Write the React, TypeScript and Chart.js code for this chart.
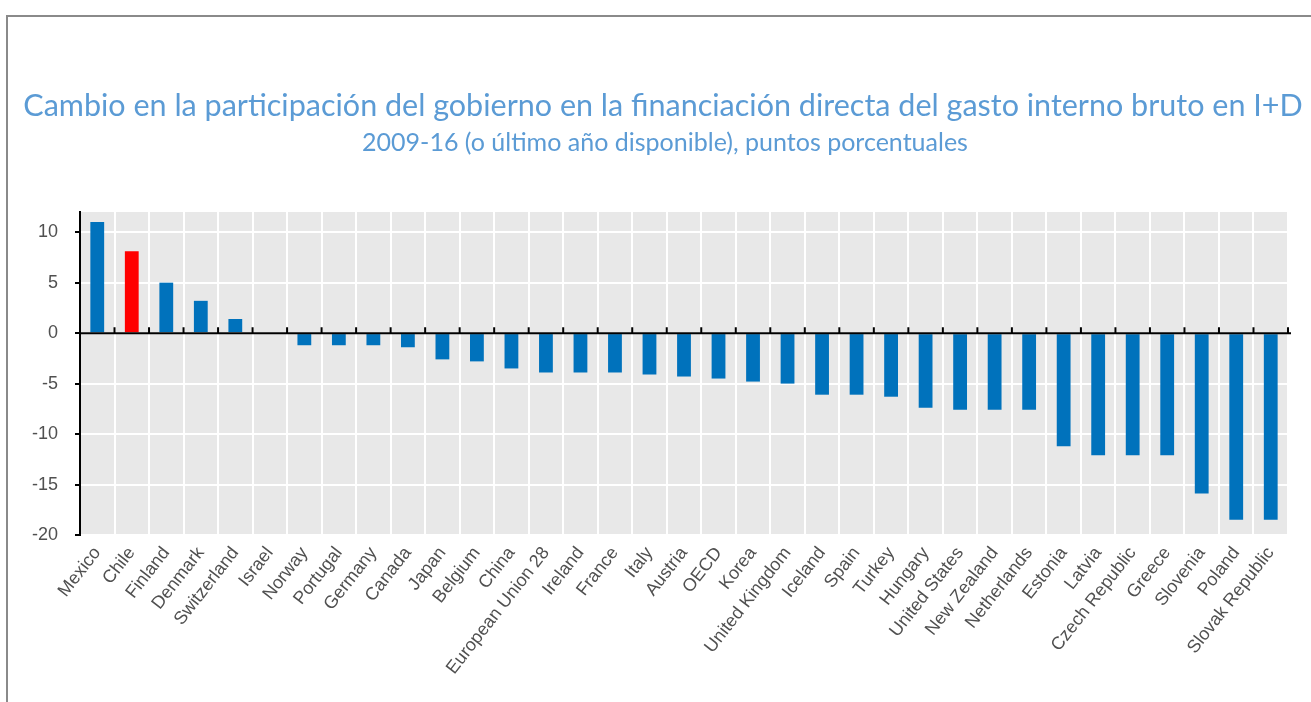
import React, { useEffect, useRef } from "react";
import { Chart, registerables } from "chart.js";

Chart.register(...registerables);

const titleText =
  "Cambio en la participación del gobierno en la financiación directa del gasto interno bruto en I+D";
const subtitleText = "2009-16 (o último año disponible), puntos porcentuales";

const categories = [
  "Mexico", "Chile", "Finland", "Denmark", "Switzerland", "Israel", "Norway",
  "Portugal", "Germany", "Canada", "Japan", "Belgium", "China",
  "European Union 28", "Ireland", "France", "Italy", "Austria", "OECD", "Korea",
  "United Kingdom", "Iceland", "Spain", "Turkey", "Hungary", "United States",
  "New Zealand", "Netherlands", "Estonia", "Latvia", "Czech Republic", "Greece",
  "Slovenia", "Poland", "Slovak Republic",
];

const values = [
  11.0, 8.1, 5.0, 3.2, 1.4, 0, -1.2, -1.2, -1.2, -1.4, -2.6, -2.8, -3.5, -3.9,
  -3.9, -3.9, -4.1, -4.3, -4.5, -4.8, -5.0, -6.1, -6.1, -6.3, -7.4, -7.6, -7.6,
  -7.6, -11.2, -12.1, -12.1, -12.1, -15.9, -18.5, -18.5,
];

const highlighted = ["Chile"];
const yTicks = [10, 5, 0, -5, -10, -15, -20];
const yMin = -20;
const yMax = 12;

const BAR_BLUE = "#0072bc";
const BAR_RED = "#ff0000";
const TITLE_BLUE = "#5b9bd5";
const TEXT_GREY = "#505050";

const backgroundPlugin = {
  id: "plotBackground",
  beforeDraw(chart: any) {
    const { ctx, chartArea: a } = chart;
    ctx.save();
    ctx.fillStyle = "#e8e8e8";
    ctx.fillRect(a.left, a.top, a.right - a.left, a.bottom - a.top);
    ctx.restore();
  },
};

const zeroLinePlugin = {
  id: "zeroLine",
  afterDatasetsDraw(chart: any) {
    const { ctx, chartArea: a, scales } = chart;
    const y0 = scales.y.getPixelForValue(0);
    ctx.save();
    ctx.strokeStyle = "#000";
    ctx.lineWidth = 2;
    ctx.beginPath();
    ctx.moveTo(a.left, y0);
    ctx.lineTo(a.right + 3, y0);
    for (let i = 1; i <= categories.length; i++) {
      const x = scales.x.getPixelForValue(i - 0.5);
      ctx.moveTo(x, y0);
      ctx.lineTo(x, y0 - 6);
    }
    ctx.stroke();
    ctx.restore();
  },
};

function fitSize(ctx: CanvasRenderingContext2D, text: string, family: string, target: number) {
  ctx.font = `100px ${family}`;
  const w = ctx.measureText(text).width;
  return (100 * target) / w;
}

const titlePlugin = {
  id: "titles",
  afterDraw(chart: any) {
    const { ctx } = chart;
    const fam = "Lato, 'Open Sans', sans-serif";
    ctx.save();
    ctx.fillStyle = TITLE_BLUE;
    ctx.textAlign = "center";
    ctx.textBaseline = "alphabetic";
    const s1 = fitSize(ctx, titleText, fam, 1280);
    ctx.font = `${s1}px ${fam}`;
    ctx.fillText(titleText, 663, 116);
    const s2 = fitSize(ctx, subtitleText, fam, 606);
    ctx.font = `${s2}px ${fam}`;
    ctx.fillText(subtitleText, 665, 151);
    ctx.restore();
  },
};

export default function App() {
  const ref = useRef<HTMLCanvasElement | null>(null);

  useEffect(() => {
    if (!ref.current) return;
    const chart = new Chart(ref.current, {
      type: "bar",
      data: {
        labels: categories,
        datasets: [
          {
            data: values,
            backgroundColor: categories.map((c) =>
              highlighted.includes(c) ? BAR_RED : BAR_BLUE
            ),
            barPercentage: 0.4,
            categoryPercentage: 1.0,
          },
        ],
      },
      options: {
        responsive: false,
        animation: false,
        layout: { padding: { top: 212, left: 0, right: 23, bottom: 0 } },
        plugins: {
          legend: { display: false },
          tooltip: { enabled: false },
          title: { display: false },
        },
        scales: {
          x: {
            grid: { color: "#ffffff", lineWidth: 2, drawTicks: false, offset: true },
            border: { display: false },
            ticks: {
              autoSkip: false,
              maxRotation: 52,
              minRotation: 52,
              color: TEXT_GREY,
              padding: 8,
              font: { family: "'Liberation Sans', Arial, sans-serif", size: 18 },
            },
            afterFit(scale: any) {
              scale.height = 167;
            },
          },
          y: {
            min: yMin,
            max: yMax,
            afterBuildTicks(scale: any) {
              scale.ticks = yTicks.map((v) => ({ value: v }));
            },
            grid: {
              color: "#ffffff",
              lineWidth: 2,
              tickColor: "#000000",
              tickLength: 5,
              tickWidth: 2,
            },
            border: { display: true, color: "#000000", width: 2 },
            ticks: {
              color: TEXT_GREY,
              padding: 17,
              font: { family: "'Liberation Sans', Arial, sans-serif", size: 18 },
            },
            afterFit(scale: any) {
              scale.width = 80;
            },
          },
        },
      },
      plugins: [backgroundPlugin, zeroLinePlugin, titlePlugin],
    });
    return () => chart.destroy();
  }, []);

  return (
    <div style={{ position: "absolute", left: 0, top: 0, width: 1311, height: 702, background: "#fff", overflow: "hidden" }}>
      <div
        style={{
          position: "absolute",
          left: 6,
          top: 15,
          width: 1311,
          height: 702,
          borderTop: "2px solid #8a8a8a",
          borderLeft: "2px solid #8a8a8a",
        }}
      />
      <canvas
        ref={ref}
        width={1311}
        height={702}
        style={{ position: "absolute", left: 0, top: 0, width: 1311, height: 702 }}
      />
    </div>
  );
}
